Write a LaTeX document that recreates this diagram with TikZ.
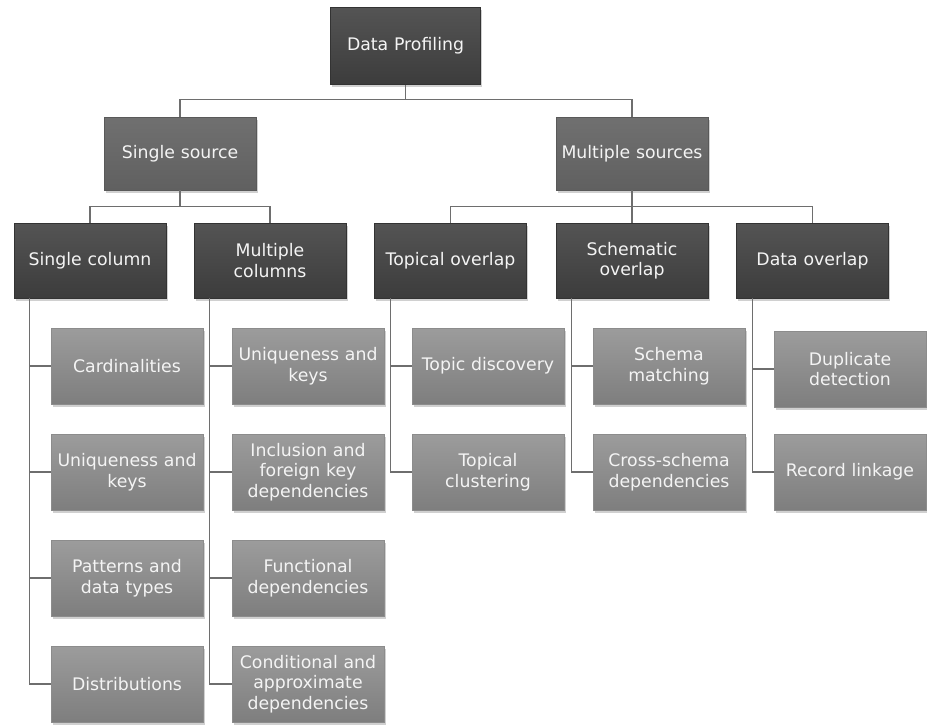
\documentclass[tikz,border=0pt]{standalone}
\usepackage{fontspec}
\setmainfont{DejaVu Sans}
\usetikzlibrary{shadows}
\definecolor{darkTop}{HTML}{545454}
\definecolor{darkBot}{HTML}{3C3C3C}
\definecolor{midTop}{HTML}{707070}
\definecolor{midBot}{HTML}{606060}
\definecolor{leafTop}{HTML}{9C9C9C}
\definecolor{leafBot}{HTML}{7E7E7E}
\definecolor{lineC}{HTML}{6E6E6E}
\definecolor{txtC}{HTML}{F4F4F4}
\tikzset{
  boxbase/.style={minimum width=152pt, minimum height=75pt, text width=148pt,
    align=center, inner sep=0pt, text=txtC,
    font=\fontsize{17.3}{20.5}\selectfont,
    drop shadow={shadow xshift=1.5pt, shadow yshift=-2.5pt, opacity=0.3, fill=black!60}},
  darkbox/.style={boxbase, top color=darkTop, bottom color=darkBot, draw=black!80, line width=0.6pt},
  midbox/.style={boxbase, minimum height=73pt, top color=midTop, bottom color=midBot, draw=black!65, line width=0.6pt},
  leafbox/.style={boxbase, minimum height=76pt, top color=leafTop, bottom color=leafBot, draw=black!45, line width=0.5pt},
  conn/.style={draw=lineC, line width=1.1pt}
}
\begin{document}
\begin{tikzpicture}[x=1pt,y=-1pt]
\useasboundingbox[fill=white] (0,0) rectangle (927,725);
% root
\node[darkbox, minimum width=150pt, minimum height=77pt] (root) at (405.5,46) {Data Profiling};
% level 2
\node[midbox] (ss) at (180,153.5) {Single source};
\node[midbox] (ms) at (632,153.5) {Multiple sources};
% level 3
\node[darkbox] (sc) at (90,260.5) {Single column};
\node[darkbox] (mc) at (270,260.5) {Multiple\\columns};
\node[darkbox] (to) at (450.5,260.5) {Topical overlap};
\node[darkbox] (so) at (632,260.5) {Schematic\\overlap};
\node[darkbox] (do) at (812.5,260.5) {Data overlap};
% leaves column 1
\node[leafbox] (a1) at (127,366) {Cardinalities};
\node[leafbox] (a2) at (127,472) {Uniqueness and\\keys};
\node[leafbox] (a3) at (127,578) {Patterns and\\data types};
\node[leafbox] (a4) at (127,684) {Distributions};
% leaves column 2
\node[leafbox] (b1) at (308,366) {Uniqueness and\\keys};
\node[leafbox] (b2) at (308,472) {Inclusion and\\foreign key\\dependencies};
\node[leafbox] (b3) at (308,578) {Functional\\dependencies};
\node[leafbox] (b4) at (308,684) {Conditional and\\approximate\\dependencies};
% leaves column 3
\node[leafbox] (c1) at (488,366) {Topic discovery};
\node[leafbox] (c2) at (488,472) {Topical\\clustering};
% leaves column 4
\node[leafbox] (d1) at (669,366) {Schema\\matching};
\node[leafbox] (d2) at (669,472) {Cross-schema\\dependencies};
% leaves column 5
\node[leafbox] (e1) at (850,369) {Duplicate\\detection};
\node[leafbox] (e2) at (850,472) {Record linkage};
% connectors
\draw[conn] (root.south) -- ++(0,14.5) -| (ss.north);
\draw[conn] (root.south) -- ++(0,14.5) -| (ms.north);
\draw[conn] (ss.south) -- ++(0,16.5) -| (sc.north);
\draw[conn] (ss.south) -- ++(0,16.5) -| (mc.north);
\draw[conn] (ms.south) -- ++(0,16.5) -| (to.north);
\draw[conn] (ms.south) -- ++(0,16.5) -| (so.north);
\draw[conn] (ms.south) -- ++(0,16.5) -| (do.north);
\foreach \p/\l in {sc/a1,sc/a2,sc/a3,sc/a4,mc/b1,mc/b2,mc/b3,mc/b4,to/c1,to/c2,so/d1,so/d2,do/e1,do/e2}{
  \draw[conn] ([xshift=16pt]\p.south west) |- (\l.west);
}
\end{tikzpicture}
\end{document}
